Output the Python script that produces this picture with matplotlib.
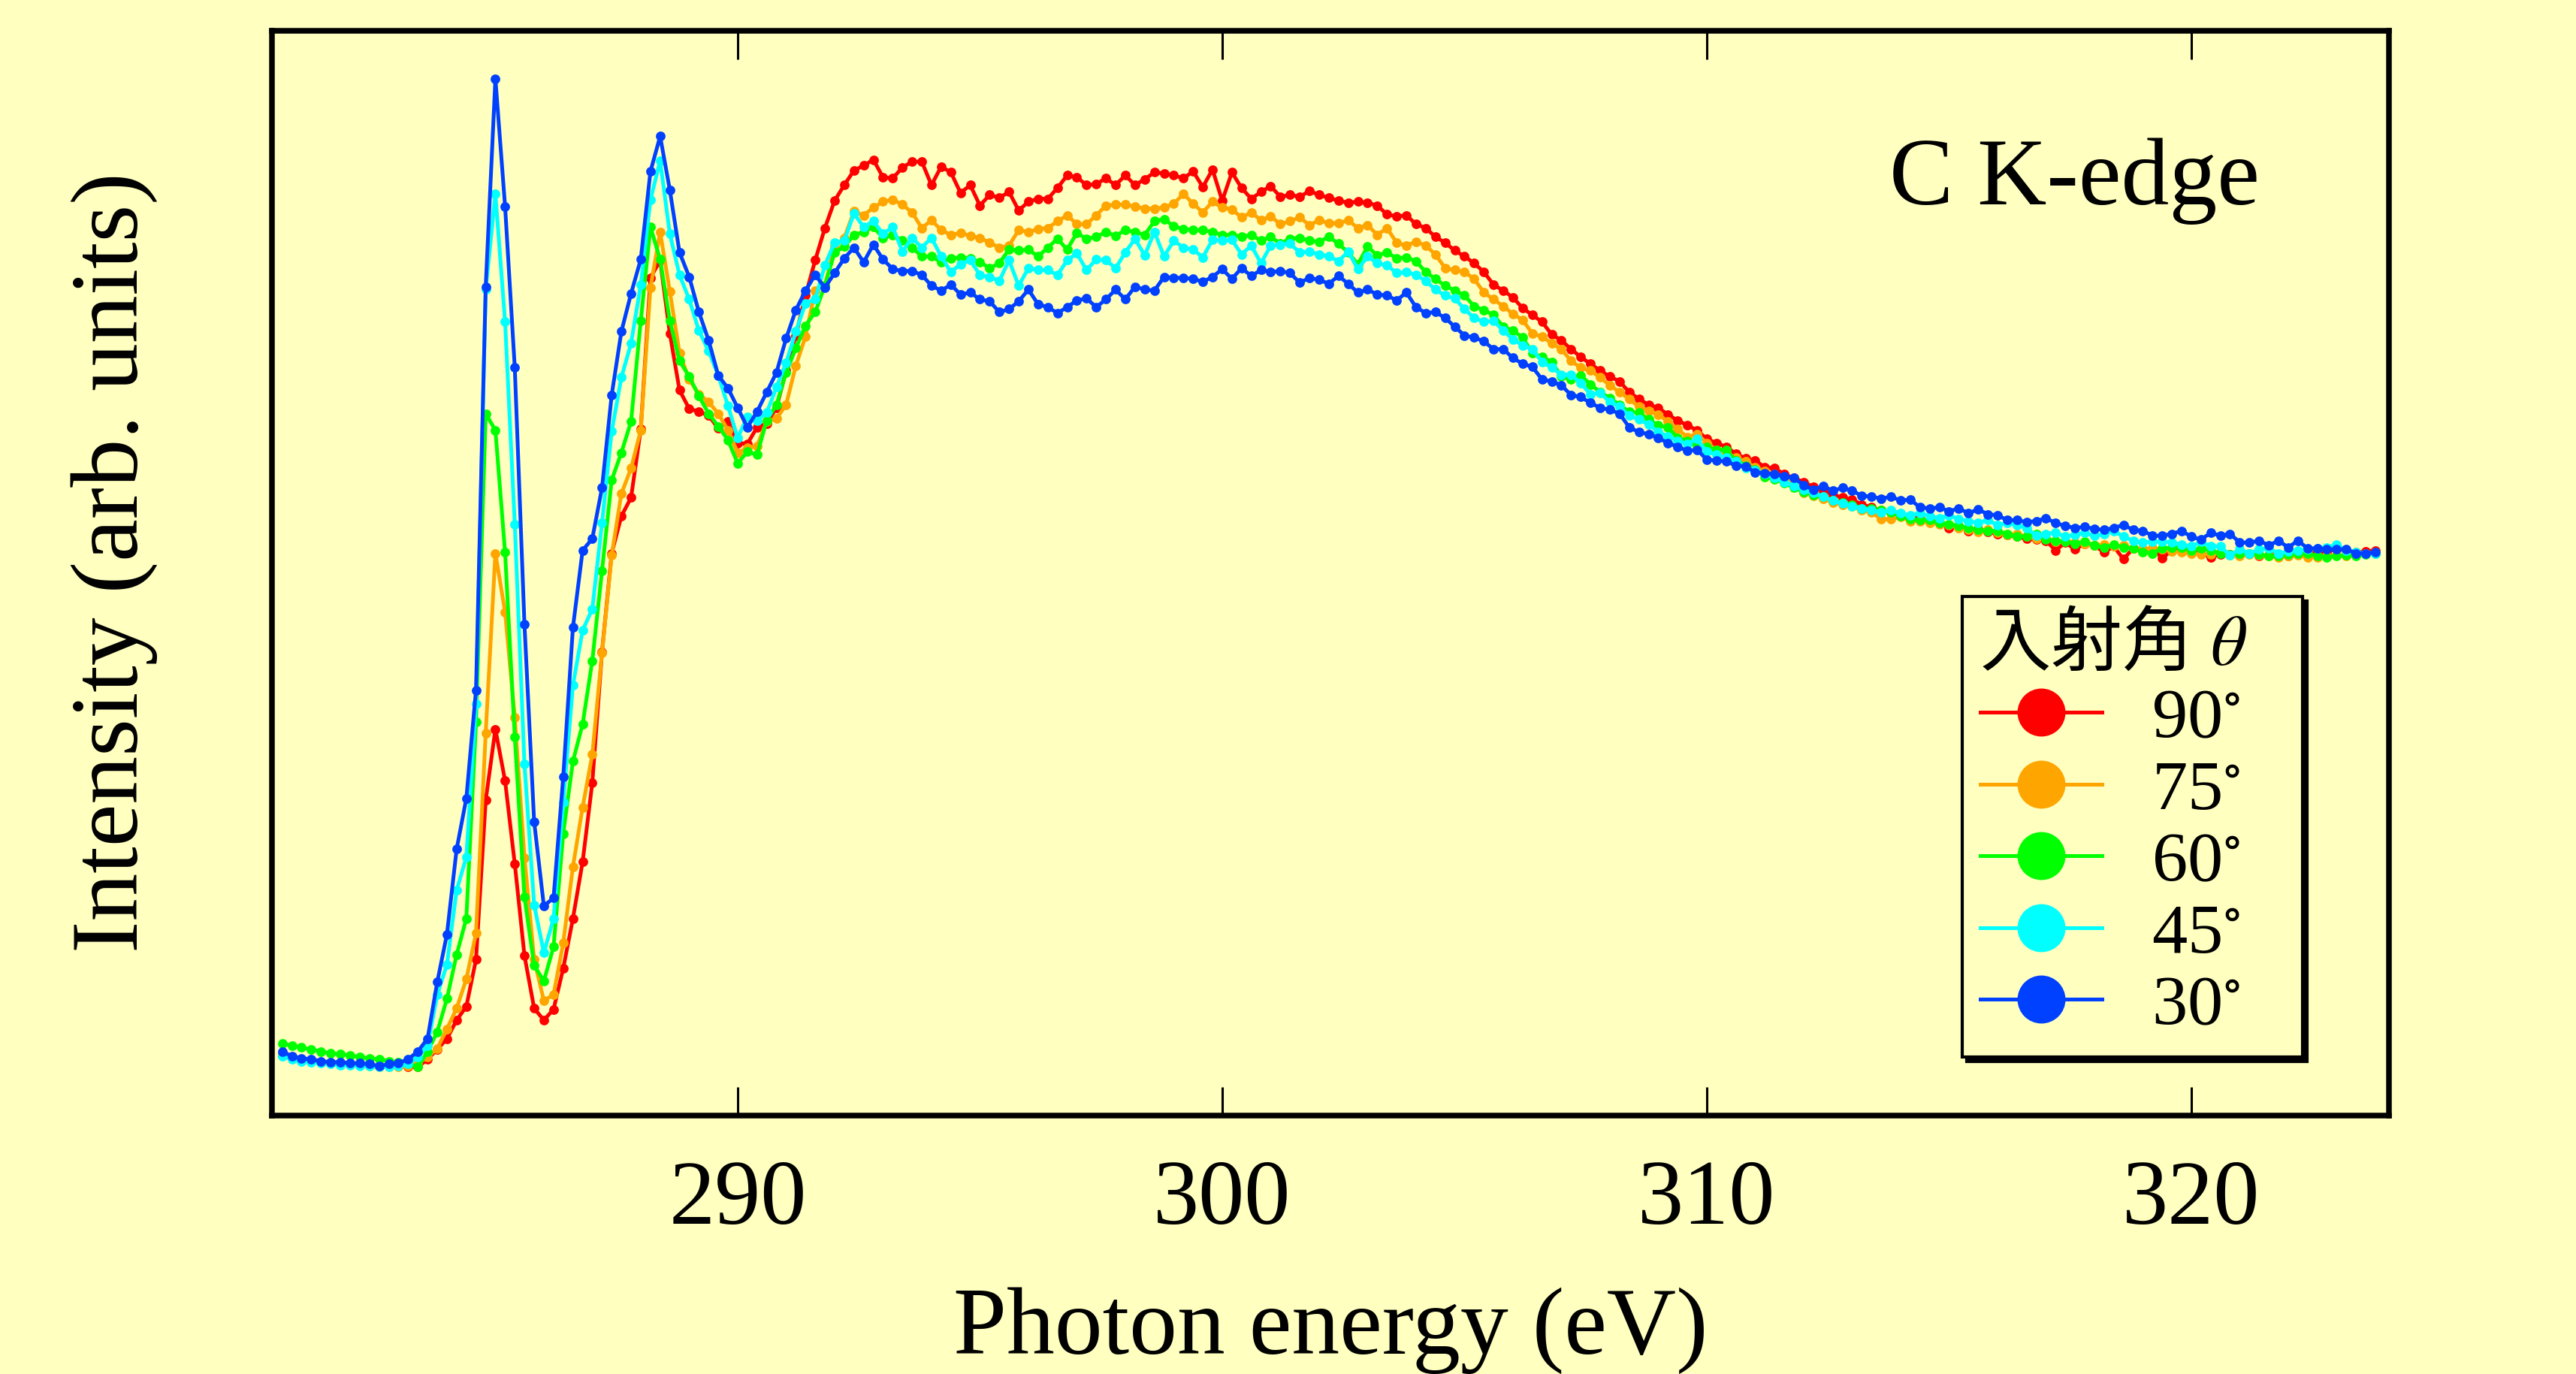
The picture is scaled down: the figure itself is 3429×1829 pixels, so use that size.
import numpy as np
import matplotlib
matplotlib.use('Agg')
import matplotlib.pyplot as plt
from matplotlib.lines import Line2D
from matplotlib.font_manager import FontProperties

plt.rcParams['font.family'] = ['Liberation Serif', 'Noto Sans CJK JP']
plt.rcParams['mathtext.fontset'] = 'stix'

# scan grid: 280.6 .. 323.8 eV, 0.2 eV steps
e_start, e_stop, e_step = 280.6, 323.8, 0.2
energy = np.round(np.arange(e_start, e_stop + e_step / 2, e_step), 1)

# intensities (arb. units), one list per incidence angle
# segments: 280.6-283.4 | 283.6-290.2 | 290.4-300.8 | 301.0-311.8 | 312.0-323.8
i_90 = [0.004, 0.001, -0.001, -0.002, -0.003, -0.004, -0.004, -0.005, -0.005, -0.006, -0.007, -0.007, -0.007, -0.008, -0.008,
        0.000, 0.010, 0.021, 0.040, 0.054, 0.102, 0.265, 0.338, 0.285, 0.200, 0.106, 0.052, 0.040, 0.051, 0.093, 0.144, 0.202,
        0.283, 0.417, 0.518, 0.556, 0.575, 0.645, 0.800, 0.818, 0.743, 0.685, 0.666, 0.663, 0.659, 0.646, 0.653, 0.631, 0.630,
        0.647, 0.651, 0.667, 0.705, 0.741, 0.782, 0.818, 0.851, 0.879, 0.895, 0.910, 0.915, 0.921, 0.903, 0.902, 0.913, 0.919,
        0.919, 0.895, 0.914, 0.908, 0.887, 0.895, 0.874, 0.885, 0.882, 0.888, 0.869, 0.878, 0.881, 0.881, 0.892, 0.905, 0.903,
        0.895, 0.896, 0.902, 0.895, 0.905, 0.895, 0.901, 0.908, 0.907, 0.905, 0.902, 0.909, 0.893, 0.911, 0.879, 0.908, 0.892,
        0.881, 0.888,
        0.894, 0.883, 0.885, 0.883, 0.889, 0.885, 0.882, 0.879, 0.877, 0.878, 0.877, 0.874, 0.865, 0.863, 0.864, 0.855, 0.851,
        0.842, 0.836, 0.828, 0.822, 0.815, 0.806, 0.793, 0.787, 0.780, 0.769, 0.762, 0.755, 0.742, 0.736, 0.727, 0.719, 0.712,
        0.705, 0.699, 0.694, 0.683, 0.676, 0.670, 0.667, 0.660, 0.654, 0.649, 0.644, 0.635, 0.631, 0.627, 0.620, 0.615, 0.613,
        0.606, 0.605, 0.599, 0.595,
        0.591, 0.586, 0.582, 0.578, 0.575, 0.573, 0.568, 0.565, 0.562, 0.560, 0.557, 0.556, 0.553, 0.551, 0.549, 0.544, 0.546,
        0.541, 0.543, 0.540, 0.538, 0.537, 0.535, 0.533, 0.532, 0.531, 0.521, 0.529, 0.522, 0.528, 0.526, 0.519, 0.525, 0.512,
        0.523, 0.522, 0.523, 0.513, 0.521, 0.520, 0.519, 0.518, 0.514, 0.517, 0.517, 0.516, 0.518, 0.515, 0.516, 0.516, 0.515,
        0.517, 0.518, 0.520, 0.519, 0.523, 0.520, 0.519, 0.520, 0.521]

i_75 = [0.005, 0.002, 0.000, -0.002, -0.003, -0.004, -0.005, -0.005, -0.006, -0.007, -0.008, -0.008, -0.008, -0.007, -0.004,
        0.002, 0.011, 0.031, 0.052, 0.082, 0.129, 0.334, 0.518, 0.458, 0.350, 0.206, 0.102, 0.060, 0.066, 0.119, 0.197, 0.258,
        0.312, 0.416, 0.516, 0.579, 0.605, 0.644, 0.790, 0.847, 0.786, 0.723, 0.696, 0.681, 0.673, 0.661, 0.644, 0.621, 0.626,
        0.628, 0.653, 0.656, 0.670, 0.710, 0.740, 0.787, 0.792, 0.832, 0.841, 0.868, 0.864, 0.872, 0.878, 0.880, 0.875, 0.867,
        0.851, 0.859, 0.849, 0.844, 0.846, 0.843, 0.841, 0.836, 0.831, 0.833, 0.849, 0.847, 0.850, 0.851, 0.858, 0.864, 0.855,
        0.855, 0.864, 0.874, 0.875, 0.875, 0.873, 0.871, 0.871, 0.872, 0.876, 0.886, 0.876, 0.867, 0.878, 0.872, 0.870, 0.862,
        0.867, 0.859,
        0.863, 0.855, 0.858, 0.862, 0.854, 0.859, 0.856, 0.856, 0.859, 0.851, 0.854, 0.844, 0.851, 0.836, 0.833, 0.837, 0.833,
        0.824, 0.810, 0.808, 0.806, 0.799, 0.785, 0.778, 0.771, 0.763, 0.757, 0.743, 0.740, 0.733, 0.727, 0.715, 0.708, 0.705,
        0.698, 0.690, 0.683, 0.676, 0.668, 0.664, 0.660, 0.653, 0.645, 0.637, 0.640, 0.631, 0.624, 0.621, 0.616, 0.612, 0.606,
        0.602, 0.599, 0.595, 0.592,
        0.580, 0.577, 0.574, 0.570, 0.568, 0.566, 0.562, 0.560, 0.553, 0.553, 0.555, 0.551, 0.551, 0.549, 0.548, 0.547, 0.544,
        0.542, 0.540, 0.542, 0.539, 0.537, 0.538, 0.535, 0.533, 0.534, 0.530, 0.531, 0.529, 0.528, 0.526, 0.527, 0.525, 0.526,
        0.523, 0.522, 0.523, 0.522, 0.520, 0.519, 0.518, 0.517, 0.517, 0.519, 0.516, 0.515, 0.517, 0.516, 0.515, 0.514, 0.515,
        0.516, 0.514, 0.514, 0.515, 0.516, 0.515, 0.517, 0.518, 0.519]

i_60 = [0.016, 0.014, 0.012, 0.010, 0.008, 0.006, 0.005, 0.004, 0.002, 0.001, 0.000, -0.002, -0.003, -0.005, -0.008,
        0.008, 0.028, 0.062, 0.107, 0.144, 0.345, 0.661, 0.644, 0.519, 0.330, 0.166, 0.096, 0.080, 0.115, 0.231, 0.305, 0.343,
        0.408, 0.500, 0.593, 0.621, 0.653, 0.756, 0.852, 0.819, 0.756, 0.715, 0.699, 0.679, 0.661, 0.648, 0.634, 0.610, 0.622,
        0.619, 0.654, 0.670, 0.703, 0.728, 0.751, 0.765, 0.792, 0.826, 0.832, 0.844, 0.847, 0.852, 0.841, 0.844, 0.838, 0.831,
        0.822, 0.822, 0.816, 0.820, 0.821, 0.820, 0.816, 0.810, 0.815, 0.829, 0.828, 0.829, 0.822, 0.831, 0.840, 0.829, 0.846,
        0.840, 0.842, 0.847, 0.843, 0.849, 0.847, 0.844, 0.858, 0.860, 0.853, 0.850, 0.849, 0.849, 0.847, 0.844, 0.844, 0.842,
        0.844, 0.838,
        0.842, 0.835, 0.840, 0.841, 0.838, 0.837, 0.842, 0.835, 0.826, 0.814, 0.832, 0.823, 0.826, 0.820, 0.821, 0.817, 0.806,
        0.799, 0.792, 0.787, 0.782, 0.771, 0.767, 0.762, 0.750, 0.746, 0.739, 0.723, 0.719, 0.714, 0.699, 0.696, 0.700, 0.691,
        0.683, 0.677, 0.670, 0.663, 0.662, 0.655, 0.649, 0.647, 0.636, 0.633, 0.628, 0.627, 0.624, 0.624, 0.613, 0.608, 0.604,
        0.596, 0.594, 0.590, 0.585,
        0.581, 0.578, 0.576, 0.572, 0.570, 0.568, 0.564, 0.564, 0.562, 0.560, 0.556, 0.553, 0.552, 0.552, 0.549, 0.548, 0.546,
        0.544, 0.542, 0.541, 0.541, 0.538, 0.535, 0.535, 0.538, 0.532, 0.531, 0.530, 0.528, 0.530, 0.526, 0.524, 0.527, 0.524,
        0.523, 0.519, 0.518, 0.523, 0.524, 0.524, 0.521, 0.523, 0.521, 0.518, 0.517, 0.518, 0.518, 0.517, 0.515, 0.515, 0.517,
        0.518, 0.518, 0.515, 0.514, 0.515, 0.516, 0.515, 0.517, 0.518]

i_45 = [0.003, 0.000, -0.002, -0.003, -0.004, -0.005, -0.006, -0.006, -0.007, -0.007, -0.008, -0.008, -0.007, -0.005, 0.002,
        0.014, 0.066, 0.097, 0.173, 0.207, 0.364, 0.788, 0.886, 0.755, 0.548, 0.302, 0.158, 0.109, 0.144, 0.263, 0.383, 0.439,
        0.461, 0.549, 0.643, 0.698, 0.733, 0.793, 0.880, 0.920, 0.845, 0.803, 0.778, 0.746, 0.725, 0.700, 0.669, 0.636, 0.658,
        0.654, 0.662, 0.688, 0.713, 0.745, 0.774, 0.778, 0.813, 0.836, 0.838, 0.866, 0.852, 0.858, 0.845, 0.852, 0.827, 0.841,
        0.831, 0.841, 0.822, 0.806, 0.814, 0.818, 0.803, 0.801, 0.797, 0.818, 0.792, 0.810, 0.808, 0.808, 0.803, 0.818, 0.825,
        0.808, 0.819, 0.818, 0.810, 0.826, 0.840, 0.823, 0.847, 0.822, 0.838, 0.831, 0.829, 0.821, 0.839, 0.838, 0.839, 0.824,
        0.833, 0.815,
        0.833, 0.834, 0.835, 0.826, 0.827, 0.824, 0.822, 0.817, 0.827, 0.809, 0.822, 0.815, 0.813, 0.805, 0.806, 0.803, 0.797,
        0.788, 0.782, 0.779, 0.768, 0.759, 0.755, 0.756, 0.746, 0.737, 0.731, 0.727, 0.714, 0.708, 0.701, 0.701, 0.692, 0.681,
        0.682, 0.673, 0.668, 0.659, 0.655, 0.650, 0.642, 0.638, 0.633, 0.630, 0.635, 0.622, 0.619, 0.616, 0.612, 0.605, 0.603,
        0.599, 0.595, 0.591, 0.587,
        0.583, 0.580, 0.576, 0.572, 0.569, 0.566, 0.564, 0.562, 0.560, 0.562, 0.559, 0.557, 0.559, 0.556, 0.554, 0.557, 0.553,
        0.551, 0.549, 0.552, 0.547, 0.549, 0.547, 0.544, 0.536, 0.538, 0.539, 0.535, 0.537, 0.539, 0.536, 0.538, 0.541, 0.535,
        0.531, 0.529, 0.530, 0.530, 0.529, 0.527, 0.525, 0.530, 0.525, 0.525, 0.516, 0.522, 0.518, 0.522, 0.523, 0.518, 0.520,
        0.521, 0.522, 0.523, 0.524, 0.527, 0.521, 0.519, 0.518, 0.518]

i_30 = [0.008, 0.003, 0.001, 0.000, -0.002, -0.003, -0.003, -0.004, -0.004, -0.005, -0.007, -0.005, -0.004, 0.000, 0.008,
        0.021, 0.079, 0.128, 0.215, 0.267, 0.378, 0.791, 1.004, 0.873, 0.708, 0.445, 0.243, 0.157, 0.165, 0.289, 0.442, 0.521,
        0.533, 0.585, 0.680, 0.745, 0.784, 0.819, 0.909, 0.945, 0.890, 0.826, 0.801, 0.765, 0.736, 0.700, 0.687, 0.667, 0.647,
        0.663, 0.683, 0.703, 0.738, 0.767, 0.787, 0.803, 0.790, 0.805, 0.820, 0.831, 0.816, 0.834, 0.819, 0.809, 0.807, 0.807,
        0.803, 0.792, 0.787, 0.793, 0.783, 0.785, 0.778, 0.776, 0.765, 0.768, 0.776, 0.788, 0.773, 0.770, 0.764, 0.770, 0.777,
        0.779, 0.770, 0.778, 0.788, 0.778, 0.791, 0.788, 0.787, 0.801, 0.800, 0.800, 0.799, 0.796, 0.801, 0.809, 0.799, 0.810,
        0.802, 0.808,
        0.806, 0.807, 0.805, 0.795, 0.800, 0.798, 0.794, 0.802, 0.794, 0.785, 0.788, 0.783, 0.782, 0.777, 0.785, 0.770, 0.764,
        0.765, 0.759, 0.750, 0.741, 0.739, 0.735, 0.727, 0.727, 0.718, 0.712, 0.709, 0.696, 0.694, 0.690, 0.680, 0.678, 0.672,
        0.667, 0.665, 0.661, 0.647, 0.642, 0.640, 0.636, 0.631, 0.627, 0.623, 0.624, 0.614, 0.613, 0.612, 0.608, 0.607, 0.601,
        0.600, 0.599, 0.597, 0.595,
        0.588, 0.583, 0.587, 0.582, 0.585, 0.582, 0.577, 0.576, 0.574, 0.576, 0.572, 0.573, 0.565, 0.564, 0.565, 0.561, 0.564,
        0.559, 0.563, 0.558, 0.557, 0.552, 0.552, 0.550, 0.551, 0.554, 0.549, 0.546, 0.544, 0.545, 0.543, 0.542, 0.544, 0.547,
        0.542, 0.541, 0.536, 0.536, 0.538, 0.541, 0.535, 0.532, 0.539, 0.536, 0.538, 0.529, 0.529, 0.531, 0.526, 0.531, 0.524,
        0.531, 0.523, 0.523, 0.522, 0.522, 0.522, 0.518, 0.518, 0.519]

series = [i_90, i_75, i_60, i_45, i_30]
labels = ['90$^{\\circ}$', '75$^{\\circ}$', '60$^{\\circ}$', '45$^{\\circ}$', '30$^{\\circ}$']
colors = ['#FF0000', '#FFA500', '#00FF00', '#00FFFF', '#0040FF']
bg = '#FFFFC0'

fig = plt.figure(figsize=(17.145, 9.145), dpi=200, facecolor=bg)
ax = fig.add_axes([0.1056, 0.1881, 0.8218, 0.7895])
ax.set_facecolor(bg)

for vals, c in zip(series, colors):
    ax.plot(energy, vals, color=c, lw=1.8, marker='o', ms=3.6, mfc=c, mec=c)

ax.set_xlim(280.39, 324.08)
ax.set_ylim(-0.0577, 1.053)
ax.set_xticks([290, 300, 310, 320])
ax.set_yticks([])
ax.tick_params(axis='x', direction='in', length=13.7, width=1.1, top=True,
               labelsize=44, pad=21)
for s in ax.spines.values():
    s.set_linewidth(2.7)

ax.set_xlabel('Photon energy (eV)', fontsize=46, labelpad=21)
ax.set_ylabel('Intensity (arb. units)', fontsize=46)
ax.yaxis.set_label_coords(-0.054, 0.51)

ax.text(0.764, 0.840, 'C K-edge', transform=ax.transAxes, fontsize=46,
        ha='left', va='baseline')

# legend: bigger markers than the plotted points, like the original
handles = [Line2D([], [], color=c, lw=1.8, marker='o', ms=22, mfc=c, mec=c) for c in colors]
title_font = FontProperties(family=['STIXGeneral', 'Noto Sans CJK JP'], style='italic', size=34)
leg = ax.legend(handles, labels, title='入射角 θ', title_fontproperties=title_font,
                loc='upper left', bbox_to_anchor=(0.7984, 0.4785, 0.1608, 0.0),
                mode='expand', borderaxespad=0, fontsize=34, handlelength=1.72,
                handletextpad=0.7, borderpad=0.25, labelspacing=0.1,
                alignment='left', fancybox=False, framealpha=1, facecolor=bg,
                edgecolor='black', shadow={'color': 'black', 'alpha': 1})
leg.get_frame().set_linewidth(1.5)

fig.savefig('out.png', dpi=200, facecolor=bg)
